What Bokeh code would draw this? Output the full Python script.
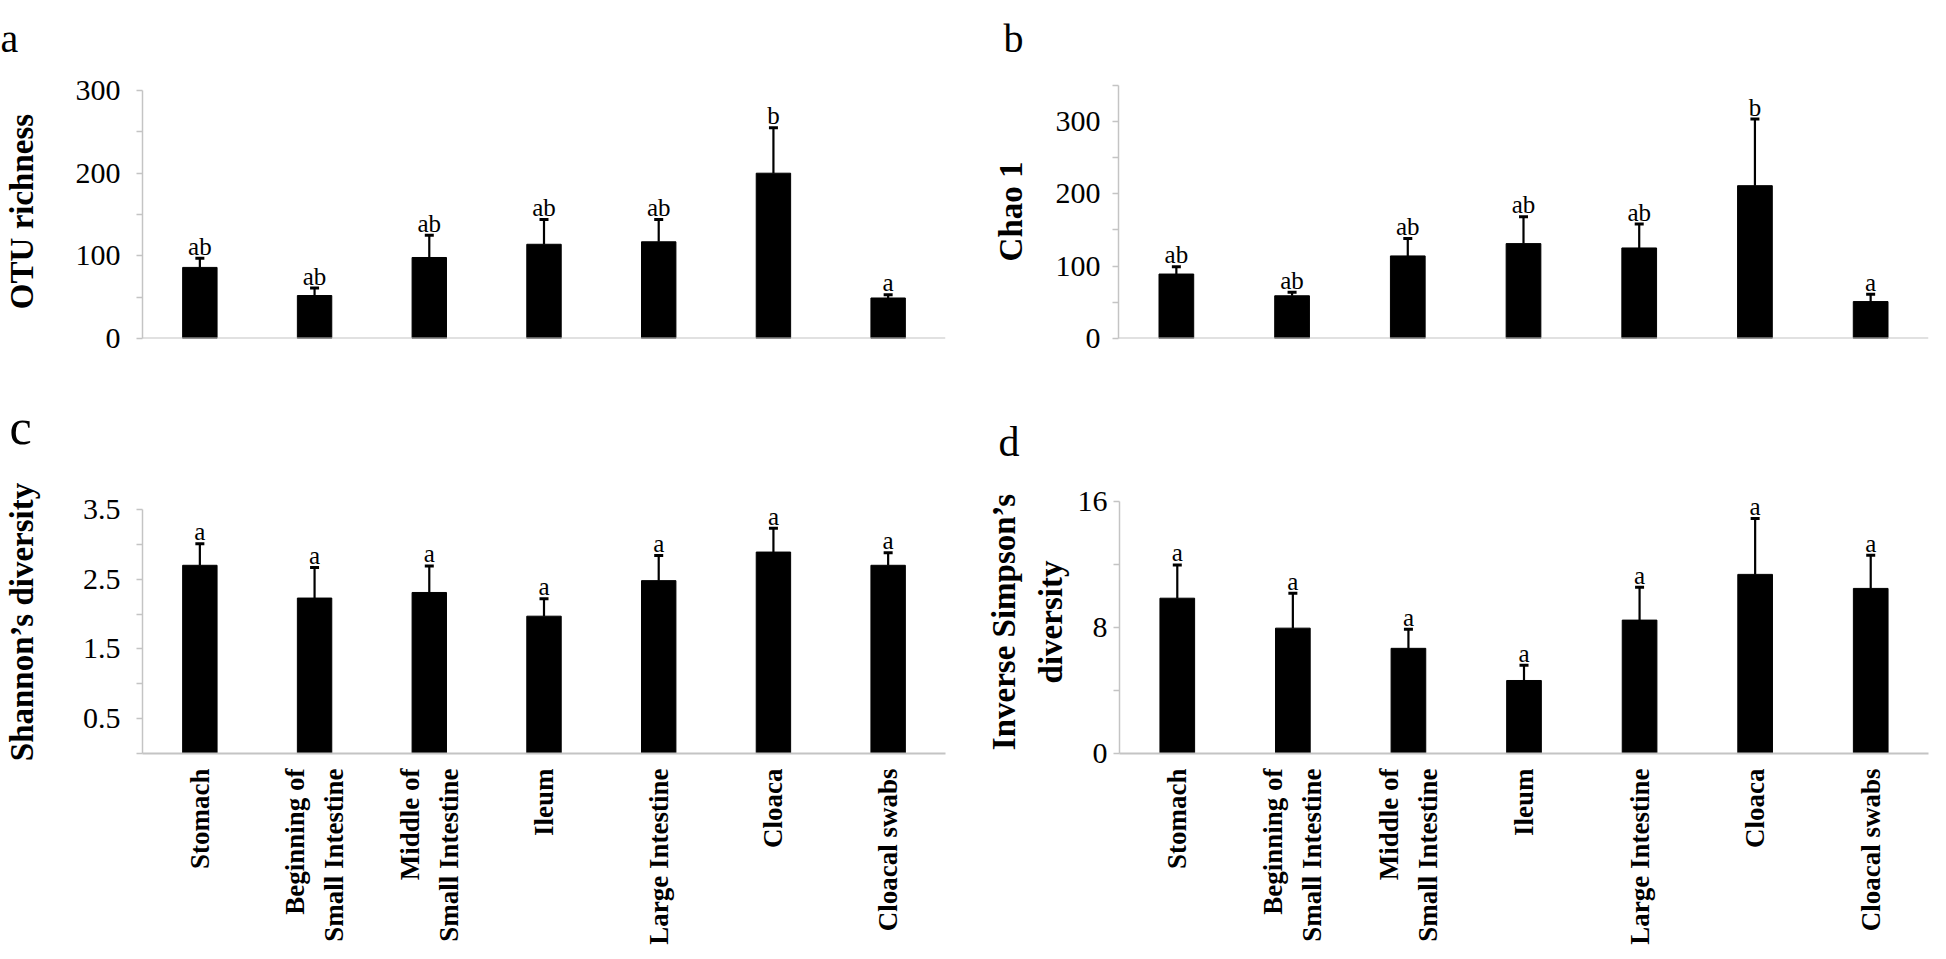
import math
from bokeh.plotting import figure
from bokeh.models import FactorRange, Range1d, FixedTicker, Whisker, TeeHead, ColumnDataSource, Span
from bokeh.layouts import column, row
from bokeh.embed import file_html
from bokeh.resources import INLINE
from bokeh.core.properties import value

# ---------------- data ----------------
categories = ["Stomach", "Beginning of\nSmall Intestine", "Middle of\nSmall Intestine",
              "Ileum", "Large Intestine", "Cloaca", "Cloacal swabs"]

otu_mean = [86, 52, 98, 114, 117, 200, 49]
otu_err = [11, 9, 27, 30, 27, 55, 4]
otu_sig = ["ab", "ab", "ab", "ab", "ab", "b", "a"]

chao_mean = [89, 59, 114, 131, 125, 211, 51]
chao_err = [10, 5, 24, 37, 33, 92, 10]
chao_sig = ["ab", "ab", "ab", "ab", "ab", "b", "a"]

shannon_mean = [2.70, 2.23, 2.31, 1.97, 2.48, 2.89, 2.70]
shannon_err = [0.31, 0.44, 0.38, 0.25, 0.36, 0.34, 0.18]
shannon_sig = ["a", "a", "a", "a", "a", "a", "a"]

invsimp_mean = [9.85, 7.95, 6.67, 4.63, 8.46, 11.36, 10.47]
invsimp_err = [2.11, 2.22, 1.21, 0.97, 2.09, 3.54, 2.11]
invsimp_sig = ["a", "a", "a", "a", "a", "a", "a"]

otu_ticks = [0, 100, 200, 300]
otu_minor = [50, 150, 250]
chao_ticks = [0, 100, 200, 300]
chao_minor = [50, 150, 250, 350]
shannon_ticks = [0.5, 1.5, 2.5, 3.5]
shannon_minor = [0, 1.0, 2.0, 3.0]
invsimp_ticks = [0, 8, 16]
invsimp_minor = [4, 12]

top_letters = ["a", "b"]

SERIF = "Liberation Serif"
GRAY = "#c4c4c4"


def panel(letter, ylabel, means, errs, sigs, y_end, axis_top, ticks, minor,
          width, height, b_left, b_right, b_top, b_bottom, show_x,
          label_standoff, title_standoff, letter_offset=0, letter_size="42px", letter_standoff=10,
          ylabel_line_height=1.0):
    p = figure(width=width, height=height, x_range=FactorRange(*categories, range_padding=0),
               y_range=Range1d(0, y_end), output_backend="svg", toolbar_location=None,
               x_axis_location=("below" if show_x else None),
               min_border_left=b_left, min_border_right=b_right,
               min_border_top=b_top, min_border_bottom=b_bottom)
    p.outline_line_color = None
    p.xgrid.grid_line_color = None
    p.ygrid.grid_line_color = None
    p.background_fill_color = "white"
    p.border_fill_color = "white"

    if letter:
        p.title.text = letter
        p.title.align = "left"
        p.title.offset = letter_offset
        p.title.text_font = SERIF
        p.title.text_font_style = "normal"
        p.title.text_font_size = letter_size
        p.title.text_color = "black"
        p.title.standoff = letter_standoff

    tops = [m + e for m, e in zip(means, errs)]
    src = ColumnDataSource(dict(x=categories, mean=means, top=tops, sig=sigs))

    p.vbar(x="x", top="mean", bottom=0, width=0.30, source=src,
           fill_color="black", line_color="black")
    wh = Whisker(base="x", lower="mean", upper="top", source=src, dimension="height",
                 line_color="black", line_width=2.2,
                 upper_head=TeeHead(size=9, line_color="black", line_width=3),
                 lower_head=None)
    p.add_layout(wh)
    p.text(x="x", y="top", text="sig", source=src, text_align="center",
           text_baseline="alphabetic", y_offset=-12, text_font=value(SERIF),
           text_font_size="25px", text_color="black")

    # y axis
    ya = p.yaxis[0]
    ya.ticker = FixedTicker(ticks=ticks, minor_ticks=minor)
    ya.bounds = (0, axis_top)
    ya.axis_line_color = GRAY
    ya.axis_line_width = 1.5
    ya.major_tick_line_color = GRAY
    ya.major_tick_line_width = 1.5
    ya.minor_tick_line_color = GRAY
    ya.minor_tick_line_width = 1.5
    ya.major_tick_in = 0
    ya.major_tick_out = 6
    ya.minor_tick_in = 0
    ya.minor_tick_out = 6
    ya.major_label_text_font = SERIF
    ya.major_label_text_font_size = "30px"
    ya.major_label_text_color = "black"
    ya.major_label_standoff = label_standoff
    ya.axis_label = ylabel
    ya.axis_label_text_font = SERIF
    ya.axis_label_text_font_style = "bold"
    ya.axis_label_text_font_size = "33px"
    ya.axis_label_text_color = "black"
    ya.axis_label_standoff = title_standoff
    ya.axis_label_text_line_height = ylabel_line_height

    # x axis
    if show_x:
        xa = p.xaxis[0]
        xa.axis_label = None
        xa.axis_line_color = GRAY
        xa.axis_line_width = 2
        xa.major_tick_line_color = None
        xa.major_tick_in = 0
        xa.major_tick_out = 0
        xa.minor_tick_line_color = None
        xa.major_label_orientation = math.pi / 2
        xa.major_label_text_font = SERIF
        xa.major_label_text_font_style = "bold"
        xa.major_label_text_font_size = "27px"
        xa.major_label_text_color = "black"
        xa.major_label_text_line_height = 1.3
        xa.major_label_standoff = 15
    else:
        p.add_layout(Span(location=0, dimension="width", line_color=GRAY, line_width=2))
    return p


# header strip holding the panel letters of the top row
HDR_H = 60
hdr = figure(width=1930, height=HDR_H, x_range=Range1d(0, 1930), y_range=Range1d(0, HDR_H),
             output_backend="svg", toolbar_location=None, title=None,
             x_axis_location=None, y_axis_location=None,
             min_border_left=0, min_border_right=0, min_border_top=0, min_border_bottom=0)
hdr.outline_line_color = None
hdr.grid.visible = False
hdr.text(x=[0], y=[22], text=[top_letters[0]], text_font=value(SERIF), text_font_size="40px",
         text_baseline="alphabetic", text_align="left", text_color="black")
hdr.text(x=[1003], y=[22], text=[top_letters[1]], text_font=value(SERIF), text_font_size="40px",
         text_baseline="alphabetic", text_align="left", text_color="black")

# top row: common frame from y=84 to y=338 (row aligns frames)
pa = panel(None, "OTU richness", otu_mean, otu_err, otu_sig, 307.3, 300, otu_ticks, otu_minor,
           width=982, height=300, b_left=133, b_right=37, b_top=24, b_bottom=22, show_x=False,
           label_standoff=16, title_standoff=33)
pb = panel(None, "Chao 1", chao_mean, chao_err, chao_sig, 350.7, 350, chao_ticks, chao_minor,
           width=948, height=300, b_left=136, b_right=2, b_top=24, b_bottom=22, show_x=False,
           label_standoff=12, title_standoff=24)
# bottom row: common frame from y=490 to y=753
pc = panel("c", "Shannon\u2019s diversity", shannon_mean, shannon_err, shannon_sig, 3.773, 3.5,
           shannon_ticks, shannon_minor,
           width=982, height=591, b_left=133, b_right=37, b_top=130, b_bottom=198, show_x=True,
           label_standoff=16, title_standoff=40, letter_offset=-133, letter_size="50px",
           letter_standoff=72)
pd_ = panel("d", "Inverse Simpson\u2019s\ndiversity", invsimp_mean, invsimp_err, invsimp_sig, 16.68, 16,
            invsimp_ticks, invsimp_minor,
            width=948, height=591, b_left=136, b_right=2, b_top=130, b_bottom=198, show_x=True,
            label_standoff=6, title_standoff=6, letter_offset=-121, letter_size="42px",
            letter_standoff=52, ylabel_line_height=1.3)

layout = column(hdr, row(pa, pb), row(pc, pd_))

open("out.html", "w").write(file_html(layout, INLINE))
